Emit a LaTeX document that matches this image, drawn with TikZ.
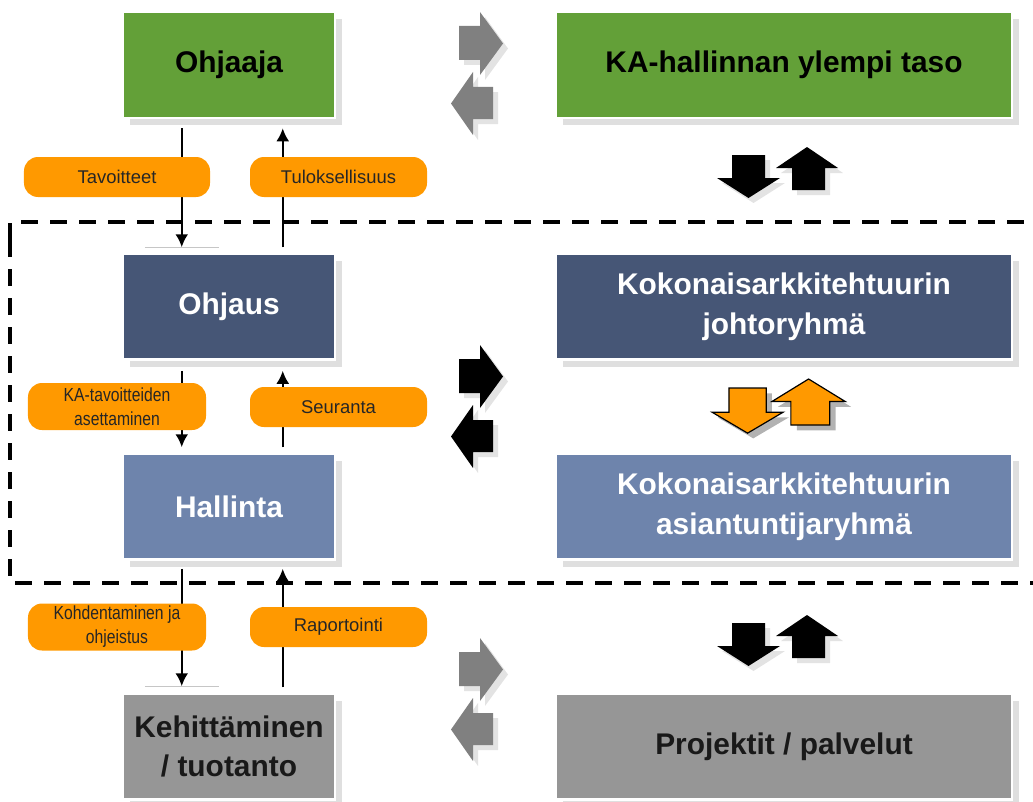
\documentclass[tikz,border=0pt]{standalone}
\usepackage{fontspec}
\setmainfont{Liberation Sans}
\newfontfamily\narrowfont[FakeStretch=0.83]{Liberation Sans}
\usepackage{tikz}
\usetikzlibrary{positioning, calc, shadows, arrows.meta}

\definecolor{ohjgreen}{RGB}{99,160,56}
\definecolor{ohjdark}{RGB}{70,86,118}
\definecolor{ohjlight}{RGB}{110,132,172}
\definecolor{ohjgray}{RGB}{150,150,150}
\definecolor{ohjorange}{RGB}{255,153,0}

\newcommand{\rightblock}[3]{%
  \begin{scope}[#1]
    \fill[#3, xshift=5bp, yshift=-5bp] (0,14) -- (21,14) -- (21,0) -- (44,31.5) -- (21,63) -- (21,48) -- (0,48) -- cycle;
    \path[#2] (0,14) -- (21,14) -- (21,0) -- (44,31.5) -- (21,63) -- (21,48) -- (0,48) -- cycle;
  \end{scope}}
\newcommand{\leftblock}[3]{%
  \begin{scope}[#1]
    \fill[#3, xshift=5bp, yshift=-5bp] (0,31.5) -- (22,0) -- (22,15) -- (42,15) -- (42,47) -- (22,47) -- (22,63) -- cycle;
    \path[#2] (0,31.5) -- (22,0) -- (22,15) -- (42,15) -- (42,47) -- (22,47) -- (22,63) -- cycle;
  \end{scope}}
\newcommand{\downblock}[3]{%
  \begin{scope}[#1]
    \fill[#3, xshift=5bp, yshift=-5bp] (15,0) -- (48,0) -- (48,23) -- (63,23) -- (31.5,43) -- (0,23) -- (15,23) -- cycle;
    \path[#2] (15,0) -- (48,0) -- (48,23) -- (63,23) -- (31.5,43) -- (0,23) -- (15,23) -- cycle;
  \end{scope}}
\newcommand{\upblock}[3]{%
  \begin{scope}[#1]
    \fill[#3, xshift=5bp, yshift=-5bp] (31,0) -- (62,21) -- (49,21) -- (49,43) -- (16,43) -- (16,21) -- (0,21) -- cycle;
    \path[#2] (31,0) -- (62,21) -- (49,21) -- (49,43) -- (16,43) -- (16,21) -- (0,21) -- cycle;
  \end{scope}}

\begin{document}
\begin{tikzpicture}[x=1bp, y=-1bp,
  box/.style={rectangle, draw=white, line width=2.5bp, minimum height=106bp, align=center,
    font=\bfseries\fontsize{30}{40}\selectfont,
    drop shadow={shadow xshift=7bp, shadow yshift=-7bp, fill=gray!25, opacity=1}},
  smallbox/.style={box, minimum width=212bp},
  widebox/.style={box, minimum width=456bp},
  tag/.style={rectangle, rounded corners=14bp, fill=ohjorange, minimum height=40bp, align=center,
    text=black!85, font=\fontsize{18.5}{24}\selectfont},
  twoline/.style={font=\narrowfont\fontsize{19}{24}\selectfont, minimum height=47bp, inner sep=0pt},
  flow/.style={-{Latex[length=13bp, width=13bp]}, line width=2.5bp}]
\useasboundingbox (0,0) rectangle (1033,802);

\draw [line width=4bp, dash pattern=on 17bp off 12bp] (10,240) -- (10,222) -- (1040,222);
\draw [line width=4bp, dash pattern=on 17bp off 12bp] (10,240) -- (10,583) -- (1040,583);

\node [smallbox, fill=ohjgreen] (ohjaaja) at (229,65) {Ohjaaja};
\node [smallbox, fill=ohjdark, text=white] (ohjaus) at (229,306.5) {Ohjaus};
\node [smallbox, fill=ohjlight, text=white] (hallinta) at (229,506.5) {Hallinta};
\node [smallbox, fill=ohjgray, text=black!90] (kehitys) at (229,746.5) {Kehittäminen\\/ tuotanto};

\node [widebox, fill=ohjgreen] (ylempi) at (784,65) {KA-hallinnan ylempi taso};
\node [widebox, fill=ohjdark, text=white] (johto) at (784,306.5) {Kokonaisarkkitehtuurin\\johtoryhmä};
\node [widebox, fill=ohjlight, text=white] (asiantuntija) at (784,506.5) {Kokonaisarkkitehtuurin\\asiantuntijaryhmä};
\node [widebox, fill=ohjgray, text=black!90] (projektit) at (784,746.5) {Projektit / palvelut};

\draw [flow] ($(ohjaaja.south west)+(60,9)$) -- ($(ohjaus.north west)+(60,-5)$);
\draw [flow] ($(ohjaus.north west)+(161,-5)$) -- ($(ohjaaja.south west)+(161,9)$);
\draw [gray!45, line width=1bp] ($(ohjaus.north west)+(23,-5)$) -- ($(ohjaus.north west)+(97,-5)$);

\draw [flow] ($(ohjaus.south west)+(60,10)$) -- ($(hallinta.north west)+(60,-5)$);
\draw [flow] ($(hallinta.north west)+(161,-5)$) -- ($(ohjaus.south west)+(161,10)$);

\draw [flow] ($(hallinta.south west)+(60,8)$) -- ($(kehitys.north west)+(60,-6)$);
\draw [flow] ($(kehitys.north west)+(161,-5)$) -- ($(hallinta.south west)+(161,8)$);
\draw [gray!45, line width=1bp] ($(kehitys.north west)+(23,-6)$) -- ($(kehitys.north west)+(97,-6)$);

\node [tag, minimum width=186bp] (tavoitteet) at (117,177) {Tavoitteet};
\node [tag, minimum width=177bp] (tulos) at (338.5,177) {Tuloksellisuus};
\node [tag, twoline, minimum width=178bp] (asetus) at (117,406.5) {KA-tavoitteiden\\asettaminen};
\node [tag, minimum width=177bp] (seuranta) at (338.5,407) {Seuranta};
\node [tag, twoline, minimum width=178bp] (kohdennus) at (117,627) {Kohdentaminen ja\\ohjeistus};
\node [tag, minimum width=177bp] (raportointi) at (338.5,627) {Raportointi};

\rightblock{shift={(459,12)}}{fill=gray}{gray!22}
\leftblock{shift={(451,72)}}{fill=gray}{gray!22}
\rightblock{shift={(459,345)}}{fill=black}{gray!22}
\leftblock{shift={(451,405)}}{fill=black}{gray!22}
\rightblock{shift={(459,638)}}{fill=gray}{gray!22}
\leftblock{shift={(451,698)}}{fill=gray}{gray!22}

\downblock{shift={(717,155)}}{fill=black}{gray!22}
\upblock{shift={(776,147)}}{fill=black}{gray!22}
\downblock{shift={(712,388)}, xscale=1.13, yscale=1.05}{fill=ohjorange, draw=black, line width=1.2bp}{gray!60}
\upblock{shift={(772,379)}, xscale=1.18, yscale=1.07}{fill=ohjorange, draw=black, line width=1.2bp}{gray!60}
\downblock{shift={(717,623)}}{fill=black}{gray!22}
\upblock{shift={(776,615)}}{fill=black}{gray!22}
\end{tikzpicture}
\end{document}
